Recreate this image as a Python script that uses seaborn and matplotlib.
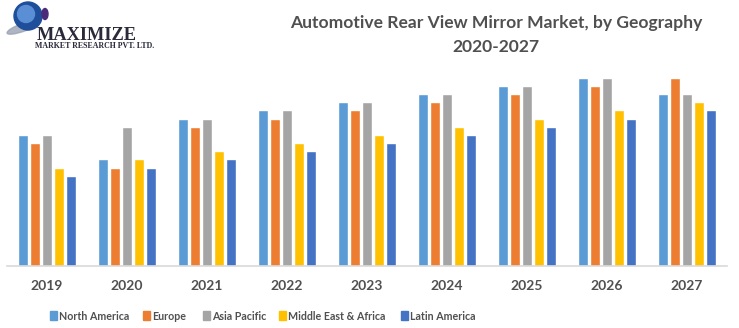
import matplotlib
matplotlib.use("Agg")
import matplotlib.pyplot as plt
import seaborn as sns
import pandas as pd
from matplotlib.patches import Circle, Ellipse

years = ["2019", "2020", "2021", "2022", "2023", "2024", "2025", "2026", "2027"]
regions = ["North America", "Europe", "Asia Pacific", "Middle East & Africa", "Latin America"]
north_america = [16, 13, 18, 19, 20, 21, 22, 23, 21]
europe = [15, 12, 17, 18, 19, 20, 21, 22, 23]
asia_pacific = [16, 17, 18, 19, 20, 21, 22, 23, 21]
middle_east_africa = [12, 13, 14, 15, 16, 17, 18, 19, 20]
latin_america = [11, 12, 13, 14, 15, 16, 17, 18, 19]
colors = ["#5b9bd5", "#ed7d31", "#a5a5a5", "#ffc000", "#4472c4"]

series = [north_america, europe, asia_pacific, middle_east_africa, latin_america]
rows = []
for reg, vals in zip(regions, series):
    for y, v in zip(years, vals):
        rows.append({"Year": y, "Region": reg, "Value": v})
df = pd.DataFrame(rows)

sns.set_theme(style="white")
plt.rcParams["font.family"] = ["Lato", "DejaVu Sans"]

W, H = 739, 328
fig = plt.figure(figsize=(W / 100, H / 100), dpi=100)
ax = fig.add_axes([7 / W, (H - 266) / H, 720 / W, 204 / H])

sns.barplot(data=df, x="Year", y="Value", hue="Region", hue_order=regions,
            palette=colors, width=0.75, gap=0.18, ax=ax, legend=False,
            saturation=1)
ax.set_ylim(0, 24.9)
ax.set_xlim(-0.5, len(years) - 0.5)
ax.set_xlabel("")
ax.set_ylabel("")
ax.set_yticks([])
for s in ["top", "right", "left"]:
    ax.spines[s].set_visible(False)
ax.spines["bottom"].set_color("#d9d9d9")
ax.spines["bottom"].set_linewidth(1.2)
ax.tick_params(axis="x", length=0, pad=10, labelsize=10, labelcolor="#505050")
for lab in ax.get_xticklabels():
    lab.set_fontweight("bold")

# Title
fig.text(496 / W, 1 - 23 / H, "Automotive Rear View Mirror Market, by Geography",
         ha="center", va="center", fontsize=12.6, fontweight="bold", color="#505050")
fig.text(496 / W, 1 - 47 / H, "2020-2027",
         ha="center", va="center", fontsize=12.6, fontweight="bold", color="#505050")

# Legend (manual row)
leg_x = [50, 143, 203, 279, 401]
for xpos, reg, c in zip(leg_x, regions, colors):
    fig.patches.append(plt.Rectangle((xpos / W, 1 - 320 / H), 7 / W, 9 / H,
                                     transform=fig.transFigure, color=c))
    fig.text((xpos + 9) / W, 1 - 316 / H, reg, ha="left", va="center",
             fontsize=7.7, fontweight="bold", color="#505050")

# Logo
logo_ax = fig.add_axes([0, 1 - 55 / H, 200 / W, 55 / H])
logo_ax.set_xlim(0, 200)
logo_ax.set_ylim(55, 0)
logo_ax.axis("off")
logo_ax.add_patch(Ellipse((24, 27), 36, 8, angle=-20, color="#9aa3b5", alpha=0.8))
logo_ax.add_patch(Circle((28, 16), 14, color="#1f4e9a"))
logo_ax.add_patch(Circle((26, 14), 8.5, color="#5a8fd6"))
logo_ax.add_patch(Ellipse((45, 14), 6, 11, color="#4b2a7a"))
logo_ax.text(37, 35, "MAXIMIZE", fontsize=13.2, fontweight="bold",
             family="Liberation Serif", color="#2a2a3a", va="center", ha="left")
logo_ax.text(35, 46, "MARKET RESEARCH PVT. LTD.", fontsize=5.7, fontweight="bold",
             family="Liberation Serif", color="#2a2a3a", va="center", ha="left")

fig.savefig("out.png", dpi=100)
